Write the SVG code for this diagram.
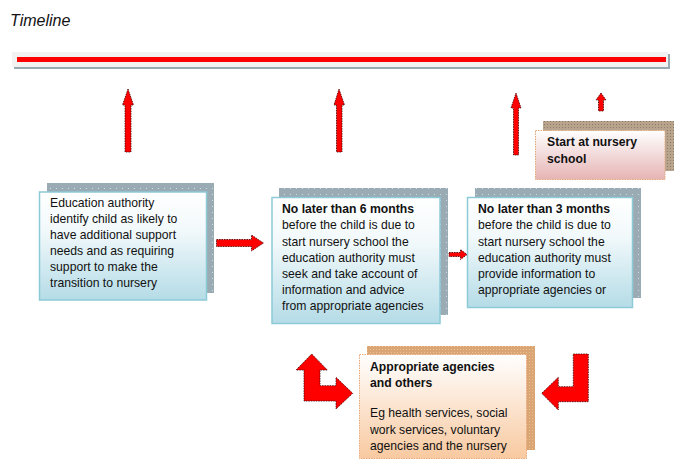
<svg xmlns="http://www.w3.org/2000/svg" width="688" height="471" viewBox="0 0 688 471">
<defs>
<linearGradient id="gBlue" x1="0" y1="0" x2="0" y2="1">
<stop offset="0" stop-color="#ffffff"/>
<stop offset="0.35" stop-color="#f2f9fb"/>
<stop offset="1" stop-color="#b5dce7"/>
</linearGradient>
<linearGradient id="gPink" x1="0" y1="0" x2="0" y2="1">
<stop offset="0" stop-color="#ffffff"/>
<stop offset="1" stop-color="#e6b4b4"/>
</linearGradient>
<linearGradient id="gPeach" x1="0" y1="0" x2="0" y2="1">
<stop offset="0" stop-color="#ffffff"/>
<stop offset="1" stop-color="#f8c9a0"/>
</linearGradient>
<pattern id="dotGray" width="6" height="6" patternUnits="userSpaceOnUse">
<rect width="6" height="6" fill="#9aabb3"/>
<rect x="2" y="2" width="1" height="1" fill="#c6dfe6"/>
</pattern>
<pattern id="dotTan" width="3" height="3" patternUnits="userSpaceOnUse">
<rect width="3" height="3" fill="#b8a48c"/>
<rect x="1" y="1" width="1" height="1" fill="#8f7a68"/>
</pattern>
<pattern id="dotPeach" width="3" height="3" patternUnits="userSpaceOnUse">
<rect width="3" height="3" fill="#d9a574"/>
<rect x="1" y="1" width="1" height="1" fill="#f0c090"/>
</pattern>
</defs>
<style>
.t{font-family:"Liberation Sans",Arial,sans-serif;font-size:12.2px;fill:#111}
.b{font-weight:bold}
.arr{fill:#ff0000;stroke:#3a0000;stroke-width:0.8;stroke-dasharray:1.5 1}
.blue{fill:url(#gBlue);stroke:#8ccad8;stroke-width:1.5}
.gsh{fill:url(#dotGray)}
</style>

<text x="10" y="26" style="font-family:'Liberation Sans',Arial,sans-serif;font-size:16px;font-style:italic;fill:#111">Timeline</text>

<g id="timeline">
<rect x="14" y="54" width="656" height="15" fill="#98a9b1"/>
<rect x="12" y="52" width="656" height="15" fill="#f2f2f2"/>
<rect x="17" y="57" width="649" height="5" fill="#ff0000"/>
</g>

<g id="box1">
<rect class="gsh" x="47" y="183" width="167" height="110"/>
<rect class="blue" x="39.5" y="192" width="167" height="108"/>
<text class="t" x="50" y="207">Education authority</text>
<text class="t" x="50" y="223">identify child as likely to</text>
<text class="t" x="50" y="239">have additional support</text>
<text class="t" x="50" y="255">needs and as requiring</text>
<text class="t" x="50" y="271">support to make the</text>
<text class="t" x="50" y="287">transition to nursery</text>
</g>

<g id="box2">
<rect class="gsh" x="279" y="188" width="169" height="127"/>
<rect class="blue" x="272" y="197.5" width="168" height="126"/>
<text class="t b" x="282" y="213">No later than 6 months</text>
<text class="t" x="282" y="229">before the child is due to</text>
<text class="t" x="282" y="245.5">start nursery school the</text>
<text class="t" x="282" y="261.5">education authority must</text>
<text class="t" x="282" y="277.5">seek and take account of</text>
<text class="t" x="282" y="293.5">information and advice</text>
<text class="t" x="282" y="310">from appropriate agencies</text>
</g>

<g id="box3">
<rect class="gsh" x="475" y="188" width="166" height="110"/>
<rect class="blue" x="467.5" y="197.5" width="165" height="110"/>
<text class="t b" x="478" y="213">No later than 3 months</text>
<text class="t" x="478" y="229">before the child is due to</text>
<text class="t" x="478" y="245.5">start nursery school the</text>
<text class="t" x="478" y="261.5">education authority must</text>
<text class="t" x="478" y="277.5">provide information to</text>
<text class="t" x="478" y="293.5">appropriate agencies or</text>
</g>

<g id="start">
<rect x="543" y="121" width="131" height="50" fill="url(#dotTan)"/>
<rect x="535.5" y="130.5" width="129.5" height="49" fill="url(#gPink)" stroke="#e0a878" stroke-width="1" stroke-dasharray="1.5 1"/>
<text class="t b" x="547" y="146">Start at nursery</text>
<text class="t b" x="547" y="162.5">school</text>
</g>

<g id="agencies">
<rect x="367" y="346" width="168" height="104" fill="url(#dotPeach)"/>
<rect x="359.5" y="354.5" width="167" height="104" fill="url(#gPeach)" stroke="#eba878" stroke-width="1" stroke-dasharray="1.5 1"/>
<text class="t b" x="370" y="370.5">Appropriate agencies</text>
<text class="t b" x="370" y="387">and others</text>
<text class="t" x="370" y="417">Eg health services, social</text>
<text class="t" x="370" y="433.5">work services, voluntary</text>
<text class="t" x="370" y="450">agencies and the nursery</text>
</g>

<g id="connectors">
<polygon class="arr" points="128,89 133.5,105 131,105 131,152 125,152 125,105 122.5,105"/>
<polygon class="arr" points="339,89 344.5,105 342,105 342,152 336.5,152 336.5,105 334,105"/>
<polygon class="arr" points="516,93 521,108 518.5,108 518.5,155 513.5,155 513.5,108 511,108"/>
<polygon class="arr" points="601,93 606,100 603.5,100 603.5,111 598.5,111 598.5,100 596,100"/>
<polygon class="arr" points="216.5,239.5 251.5,239.5 251.5,235 263.5,243 251.5,251 251.5,246.5 216.5,246.5"/>
<polygon class="arr" points="449,252.5 460.5,252.5 460.5,249.5 467,254.5 460.5,259.5 460.5,256.5 449,256.5"/>
<polygon class="arr" points="311.7,354 327.3,370 320,370 320,385.7 336,385.7 336,377.3 352.7,393.3 336,409 336,401 304,401 304,370 296,370"/>
<polygon class="arr" points="573.3,354 588.3,354 588.3,401.7 558.3,401.7 558.3,410 541.7,393.3 558.3,377.3 558.3,386.7 573.3,386.7"/>
</g>
</svg>
